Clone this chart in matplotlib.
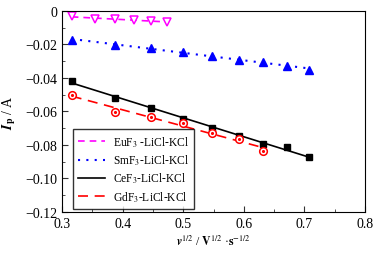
import numpy as np
import matplotlib
matplotlib.use('Agg')
import matplotlib.pyplot as plt
from matplotlib.ticker import MultipleLocator, FormatStrFormatter, FuncFormatter

plt.rcParams['font.family'] = ['Liberation Serif', 'DejaVu Serif']
plt.rcParams['mathtext.fontset'] = 'stix'

# data
x_eu = [0.316, 0.354, 0.387, 0.418, 0.447, 0.474]
y_eu = [-0.0030, -0.0048, -0.0050, -0.0055, -0.0060, -0.0064]

x_sm = [0.316, 0.387, 0.447, 0.500, 0.548, 0.592, 0.632, 0.671, 0.707]
y_sm = [-0.0171, -0.0203, -0.0223, -0.0245, -0.0267, -0.0291, -0.0303, -0.0330, -0.0350]

x_ce = [0.316, 0.387, 0.447, 0.500, 0.548, 0.592, 0.632, 0.671, 0.707]
y_ce = [-0.0416, -0.0518, -0.0581, -0.0645, -0.0697, -0.0744, -0.0794, -0.0814, -0.0873]

x_gd = [0.316, 0.387, 0.447, 0.500, 0.548, 0.592, 0.632]
y_gd = [-0.0501, -0.0605, -0.0631, -0.0669, -0.0730, -0.0764, -0.0838]

labels = ['EuF$_3$ -LiCl-KCl', 'SmF$_3$-LiCl-KCl', 'CeF$_3$-LiCl-KCl', 'GdF$_3$-LiCl-KCl']

fig = plt.figure(figsize=(3.83, 2.55), dpi=100)
ax = fig.add_axes([0.162, 0.165, 0.791, 0.788])

def fit_line(x, y):
    k, b = np.polyfit(x, y, 1)
    xx = np.array([min(x), max(x)])
    return xx, k * xx + b

# fitted lines (legend handles)
xx, yy = fit_line(x_eu, y_eu)
ax.plot(xx, yy, color='#ff00ff', ls=(0, (4, 3)), lw=1.2, label=labels[0])
xx, yy = fit_line(x_sm, y_sm)
ax.plot(xx, yy, color='#0000ff', ls=(0, (1, 3)), lw=1.5, label=labels[1])
xx, yy = fit_line(x_ce, y_ce)
ax.plot(xx, yy, color='black', ls='-', lw=1.2, label=labels[2])
xx, yy = fit_line(x_gd, y_gd)
ax.plot(xx, yy, color='#ff0000', ls=(0, (6, 4)), lw=1.2, label=labels[3])

# markers
ax.plot(x_eu, y_eu, 'v', ms=5.5, mfc='white', mec='#ff00ff', mew=1.1, ls='none')
ax.plot(x_sm, y_sm, '^', ms=6, color='#0000ff', ls='none')
ax.plot(x_ce, y_ce, 's', ms=4.5, color='black', ls='none')
ax.plot(x_gd, y_gd, 'o', ms=5.5, mfc='white', mec='#ff0000', mew=1.1, ls='none')
ax.plot(x_gd, y_gd, '.', ms=2.5, color='#ff0000', ls='none')

ax.set_xlim(0.3, 0.8)
ax.set_ylim(-0.12, 0)
ax.xaxis.set_major_locator(MultipleLocator(0.1))
ax.xaxis.set_minor_locator(MultipleLocator(0.05))
ax.yaxis.set_major_locator(MultipleLocator(0.02))
ax.yaxis.set_minor_locator(MultipleLocator(0.01))
ax.xaxis.set_major_formatter(FormatStrFormatter('%.1f'))
ax.yaxis.set_major_formatter(FuncFormatter(
    lambda v, p: '0' if abs(v) < 1e-9 else ('%.2f' % v).replace('-', '\u2212')))
ax.tick_params(which='both', direction='in', labelsize=10, color='#333333')
ax.tick_params(which='major', length=4)
ax.tick_params(which='minor', length=2)

ax.set_xlabel('$\\boldsymbol{v}^{1/2}$ / $\\mathbf{V}^{1/2}$ ·$\\mathbf{s}^{-1/2}$',
              fontsize=8.5, labelpad=3)
ax.set_ylabel('$\\boldsymbol{I}_{\\mathbf{p}}$ / A', fontsize=10, labelpad=5)

ax.legend(loc='lower left', bbox_to_anchor=(0.036, 0.015), borderaxespad=0,
          fontsize=8.3, frameon=True, fancybox=False, edgecolor='black',
          handlelength=2.3, handletextpad=0.7, labelspacing=0.33, borderpad=0.45)

fig.savefig('out.png', dpi=100)
